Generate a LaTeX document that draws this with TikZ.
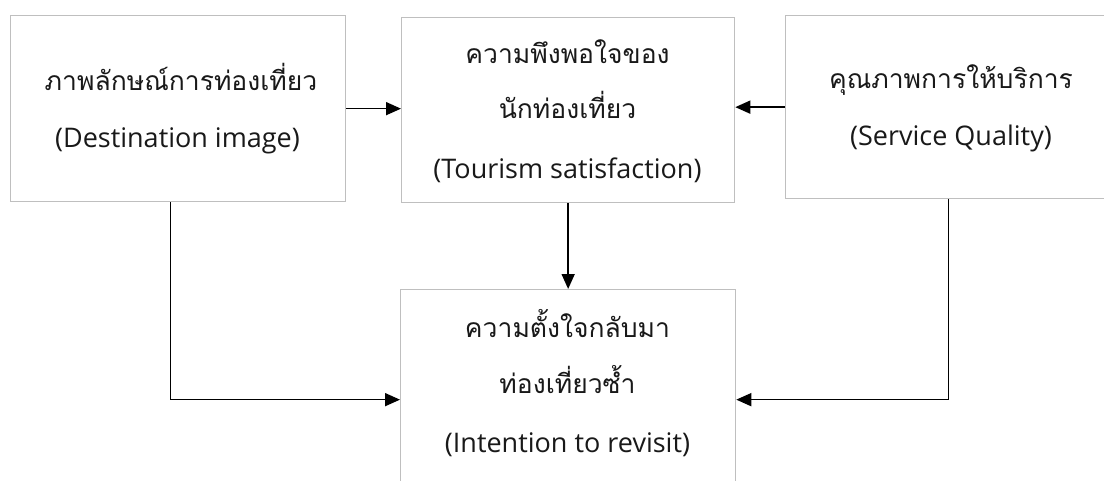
\documentclass[tikz,border=0pt]{standalone}
\usepackage{fontspec}
\setmainfont{Open Sans}
\newfontfamily\thai[Script=Thai]{Loma}
\usetikzlibrary{arrows.meta}
\begin{document}
\begin{tikzpicture}[x=1pt,y=-1pt,
  box/.style={draw=black!25,line width=1.3pt,fill=white,anchor=north west,inner sep=0pt},
  th/.style={anchor=base,font=\thai\fontsize{26.5}{30}\selectfont,text=black!90},
  en/.style={anchor=base,font=\fontsize{27}{31}\selectfont,text=black!90},
  arr/.style={line width=1.6pt,-{Triangle[length=15pt,width=13pt]}}]
\useasboundingbox (0,0) rectangle (1104,480);
\clip (0,0) rectangle (1104,480);
\fill[white] (0,0) rectangle (1104,480);

% boxes
\node[box,minimum width=335pt,minimum height=186pt] (b1) at (10,15) {};
\node[box,minimum width=333pt,minimum height=185pt] (b2) at (401,17) {};
\node[box,minimum width=326pt,minimum height=183pt] (b3) at (785,15) {};
\node[box,minimum width=335pt,minimum height=220pt] (b4) at (400,289) {};

% labels
\node[th] (t1a) at (181,90) {ภาพลักษณ์การท่องเที่ยว};
\node[en] (t1b) at (177.5,147) {(Destination image)};
\node[th] (t2a) at (567.5,63) {ความพึงพอใจของ};
\node[th] (t2b) at (567.5,118) {นักท่องเที่ยว};
\node[en] (t2c) at (567.5,178) {(Tourism satisfaction)};
\node[th] (t3a) at (951,88) {คุณภาพการให้บริการ};
\node[en] (t3b) at (951,145) {(Service Quality)};
\node[th] (t4a) at (567.5,337) {ความตั้งใจกลับมา};
\node[th] (t4b) at (567.5,393) {ท่องเที่ยวซ้ำ};
\node[en] (t4c) at (567.5,452) {(Intention to revisit)};

% connectors
\draw[arr] (b1.east) -- (b1.east -| b2.west);
\draw[arr] (b3.west) -- (b3.west -| b2.east);
\draw[arr] (b2.south) -- (b4.north);
\draw[arr] ([xshift=-7.5pt]b1.south) |- (b4.west);
\draw[arr] (b3.south) |- (b4.east);
\end{tikzpicture}
\end{document}
